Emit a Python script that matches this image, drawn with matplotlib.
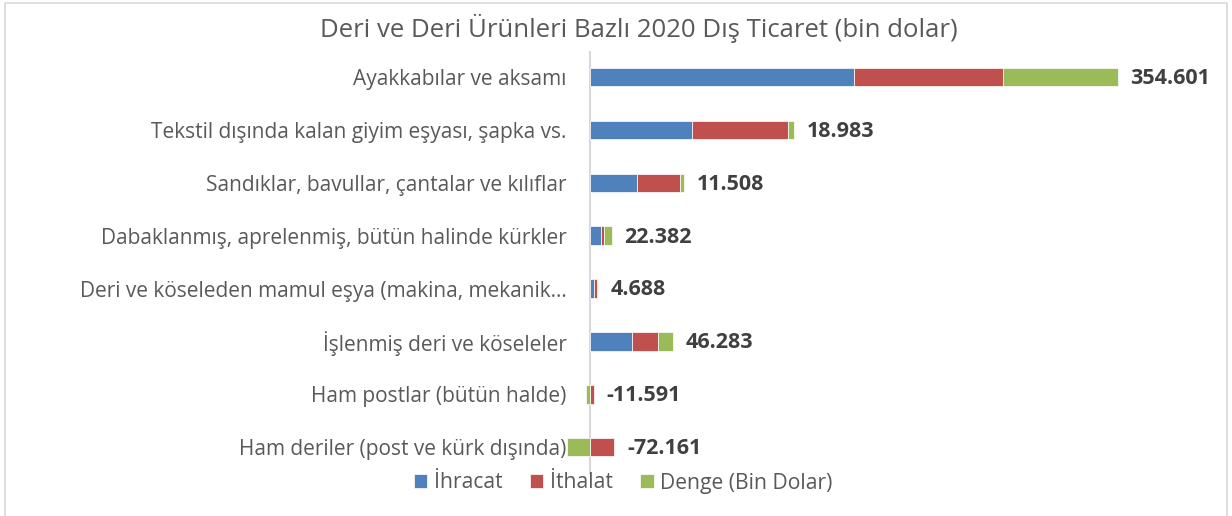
import matplotlib.pyplot as plt
from matplotlib.patches import Rectangle
import numpy as np

# === 数据 ===
categories = [
    "Ayakkabılar ve aksamı",
    "Tekstil dışında kalan giyim eşyası, şapka vs.",
    "Sandıklar, bavullar, çantalar ve kılıflar",
    "Dabaklanmış, aprelenmiş, bütün halinde kürkler",
    "Deri ve köseleden mamul eşya (makina, mekanik…",
    "İşlenmiş deri ve köseleler",
    "Ham postlar (bütün halde)",
    "Ham deriler (post ve kürk dışında)",
]
ihracat = [813.5, 315.0, 145.0, 33.5, 13.0, 128.5, 0.3, 1.5]
ithalat = [458.9, 296.0, 133.5, 11.1, 8.3, 82.2, 11.9, 73.7]
denge = [354.601, 18.983, 11.508, 22.382, 4.688, 46.283, -11.591, -72.161]
denge_labels = ["354.601", "18.983", "11.508", "22.382", "4.688", "46.283", "-11.591", "-72.161"]

series_names = ["İhracat", "İthalat", "Denge (Bin Dolar)"]
colors = ["#4F81BD", "#C0504D", "#9BBB59"]

plt.rcParams['font.family'] = ['Open Sans', 'DejaVu Sans']

fig = plt.figure(figsize=(12.32, 5.16), dpi=100)
W, H = 1232, 516
ax_left = 572
ax = fig.add_axes([ax_left / W, 1 - 473.6 / H, (1220 - ax_left) / W, (473.6 - 50.6) / H])

y = np.arange(len(categories))
pos_cum = np.zeros(len(categories))
neg_cum = np.zeros(len(categories))
for name, vals, c in zip(series_names, [ihracat, ithalat, denge], colors):
    vals = np.array(vals)
    left = np.where(vals >= 0, pos_cum, neg_cum)
    ax.barh(y, vals, left=left, height=0.35, color=c, edgecolor='white',
            linewidth=0.5, label=name, clip_on=False)
    pos_cum += np.where(vals >= 0, vals, 0)
    neg_cum += np.where(vals < 0, vals, 0)

# 数据标签 (Denge)
for yi, xe, lab in zip(y, pos_cum, denge_labels):
    ax.annotate(lab, (xe, yi), xytext=(9, -1), textcoords='offset points',
                ha='left', va='center', fontsize=15.5, fontweight='bold',
                color='#404040', annotation_clip=False)

scale = 0.3243  # px per unit
ax.set_xlim((ax_left - 590) / scale, (1220 - 590) / scale)
ax.set_ylim(len(categories) - 0.5, -0.5)
ax.axvline(0, color='#d9d9d9', lw=1.5, zorder=0)

ax.set_yticks(y)
ax.set_yticklabels(categories, fontsize=15, color='#595959')
ax.tick_params(axis='y', length=0, pad=4)
ax.set_xticks([])
for s in ax.spines.values():
    s.set_visible(False)

fig.text(639 / W, 1 - 28 / H, "Deri ve Deri Ürünleri Bazlı 2020 Dış Ticaret (bin dolar)",
         ha='center', va='center', fontsize=18.5, color='#595959')

fig.legend(loc='center', bbox_to_anchor=(623 / W, 1 - 483 / H), ncol=3, frameon=False,
           fontsize=15.2, labelcolor='#595959', handlelength=0.65, handleheight=0.65,
           handletextpad=0.3, columnspacing=1.3)

fig.patches.append(Rectangle((5 / W, -0.02), (1227 - 5) / W, 1 - 3 / H + 0.02,
                             transform=fig.transFigure, fill=False,
                             edgecolor='#d9d9d9', lw=1.2))

fig.savefig("out.png", dpi=100)
